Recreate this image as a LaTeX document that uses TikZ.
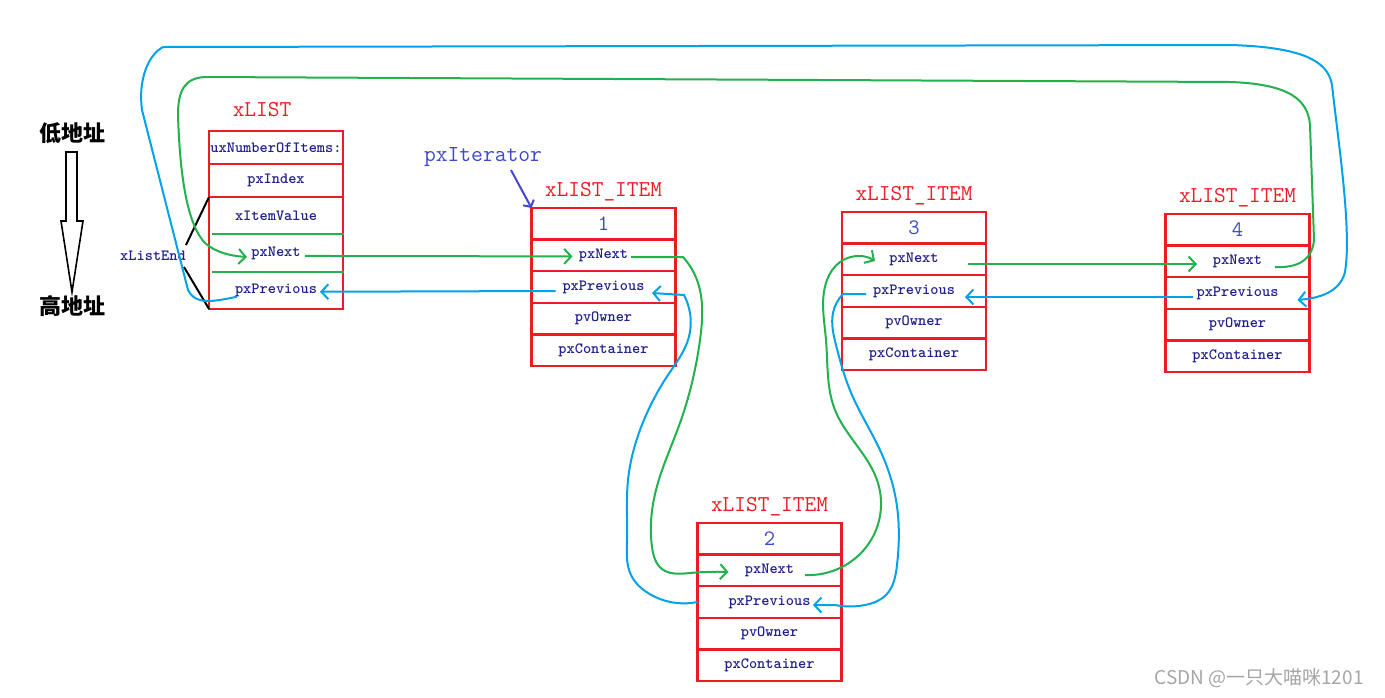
\documentclass[tikz,border=0pt]{standalone}
\usepackage{fontspec}
\newfontfamily\cjk{Noto Sans CJK SC}
\usetikzlibrary{positioning}
\usetikzlibrary{arrows.meta}
\usetikzlibrary{hobby}
\definecolor{boxred}{HTML}{ED1C24}
\definecolor{nextgreen}{HTML}{22B14C}
\definecolor{prevblue}{HTML}{00A2E8}
\definecolor{fieldblue}{RGB}{32,32,140}
\definecolor{numblue}{HTML}{3F48CC}

\begin{document}
\begin{tikzpicture}[x=1pt, y=-1pt]
    \tikzstyle{field} = [draw=boxred, line width=2.4pt, minimum width=144, minimum height=31.6, inner sep=1pt, outer sep=0pt, text=fieldblue, font=\ttfamily\bfseries\fontsize{15.6}{16}\selectfont]
    \tikzstyle{lfield} = [field, minimum width=134]
    \tikzstyle{numfield} = [field, text=numblue, font=\ttfamily\fontsize{22}{22}\selectfont]
    \tikzstyle{title} = [text=boxred, inner sep=2pt, font=\ttfamily\fontsize{22.7}{23}\selectfont]
    \tikzstyle{boxline} = [draw=boxred, line width=2.4pt]
    \tikzstyle{nextline} = [draw=nextgreen, line width=2pt]
    \tikzstyle{prevline} = [draw=prevblue, line width=2pt]
    \tikzstyle{link} = [-{Straight Barb[length=7pt, width=15pt]}]
    \tikzstyle{brace} = [draw=black, line width=2pt]
    \fill[white] (0, 0) rectangle (1385, 697);
    \useasboundingbox (0, 0) rectangle (1385, 697);

    \node[font=\cjk\bfseries\fontsize{22}{22}\selectfont] (low) at (72, 133) {低地址};
    \node[font=\cjk\bfseries\fontsize{22}{22}\selectfont] (high) at (72, 306) {高地址};
    \draw[line width=1.6pt] (66, 152) -- (77, 152) -- (77, 221) -- (83, 221) -- (72, 292) -- (61, 221) -- (66, 221) -- cycle;

    \node[lfield, minimum height=33] (lnum) at (276, 147.5) {uxNumberOfItems:};
    \node[lfield, minimum height=33, below=0pt of lnum] (lidx) {pxIndex};
    \node[lfield, draw=none, minimum height=37.3, below=0pt of lidx] (lval) {xItemValue};
    \node[lfield, draw=none, minimum height=37.3, below=0pt of lval] (lnext) {pxNext};
    \node[lfield, draw=none, minimum height=37.3, below=0pt of lnext] (lprev) {pxPrevious};
    \draw[boxline] (lval.north west) rectangle (lprev.south east);
    \draw[nextline] ([xshift=3]lval.south west) -- ([xshift=1]lval.south east);
    \draw[nextline] ([xshift=3]lnext.south west) -- ([xshift=1]lnext.south east);
    \node[title] (ltitle) at (262, 110) {xLIST};
    \node[text=fieldblue, inner sep=2pt, font=\ttfamily\bfseries\fontsize{15.6}{16}\selectfont] (lend) at (153, 256) {xListEnd};
    \draw[brace] (lval.north west) -- ([xshift=-2, yshift=11]lend.east);
    \draw[brace] ([xshift=-4, yshift=-11]lend.east) -- (lprev.south west);

    \foreach \n/\x/\y in {1/603.5/223.8, 2/769.5/538.8, 3/914/227.8, 4/1237.5/229.8} {
        \node[numfield] (i\n-num) at (\x, \y) {\n};
        \node[field, below=0pt of i\n-num] (i\n-next) {pxNext};
        \node[field, below=0pt of i\n-next] (i\n-prev) {pxPrevious};
        \node[field, below=0pt of i\n-prev] (i\n-owner) {pvOwner};
        \node[field, below=0pt of i\n-owner] (i\n-cont) {pxContainer};
        \node[title, above=5pt of i\n-num] (i\n-title) {xLIST\_ITEM};
    }

    \node[text=numblue, font=\ttfamily\fontsize{22.9}{23}\selectfont] (iter) at (483, 157) {pxIterator};
    \draw[draw=numblue, line width=2pt, -{Straight Barb[length=5pt, width=12pt]}] ([xshift=28]iter.south) -- (i1-num.north west);

    \draw[nextline, link] ([xshift=29, yshift=-3]lnext.center) -- ([xshift=-31, yshift=-1]i1-next.center);
    \draw[nextline, link, use Hobby shortcut] ([xshift=27.5, yshift=-1.6]i1-next.center) -- (683, 257) .. (697, 280) .. (700, 340) .. (680, 423) .. (656, 490) .. (652, 547) .. (662, 569) .. (690, 573) .. ([xshift=-41, yshift=-1.6]i2-next.center);
    \draw[nextline, link, use Hobby shortcut] ([xshift=35.5, yshift=-4.6]i2-next.center) .. (842, 567) .. (876, 530) .. (877, 480) .. (835, 410) .. (826, 340) .. (827, 280) .. (840, 262) .. ([xshift=-39, yshift=-1.6]i3-next.center);
    \draw[nextline, link] ([xshift=54, yshift=-4.6]i3-next.center) -- ([xshift=-40.5, yshift=-2.6]i4-next.center);
    \draw[nextline, link] ([xshift=37.5, yshift=-5.6]i4-next.center) .. controls (1295, 268) and (1312, 262) .. (1314, 240) -- (1310, 125) .. controls (1308, 100) and (1290, 84) .. (1230, 82) -- (205, 77) .. controls (185, 78) and (178, 90) .. (178, 115) .. controls (180, 180) and (188, 225) .. (205, 243) .. controls (215, 252) and (230, 256) .. ([xshift=-29, yshift=-4]lnext.center);

    \draw[prevline, link] ([xshift=-48, yshift=-4]i1-prev.center) -- ([xshift=44, yshift=-1.5]lprev.center);
    \draw[prevline, link, use Hobby shortcut] (i2-prev.west) .. (677, 603) .. (648, 593) .. (631, 575) .. (627, 540) .. (628, 480) .. (640, 430) .. (668, 375) .. (688, 340) .. (690, 313) .. (684, 295) -- ([xshift=48.5, yshift=-6]i1-prev.center);
    \draw[prevline, link, use Hobby shortcut] ([xshift=-48, yshift=-3]i3-prev.center) -- (843, 294) .. (833, 313) .. (836, 345) .. (852, 395) .. (880, 450) .. (896, 500) .. (897, 565) .. (886, 595) .. (865, 605) .. (835, 605) -- ([xshift=43.5, yshift=-3]i2-prev.center);
    \draw[prevline, link] ([xshift=-44.5, yshift=-4]i4-prev.center) -- ([xshift=51, yshift=-6]i3-prev.center);
    \draw[prevline, link] ([xshift=-39, yshift=-6.5]lprev.center) .. controls (215, 301) and (196, 306) .. (188, 290) -- (142, 110) .. controls (138, 80) and (148, 55) .. (163, 47) -- (1230, 45) .. controls (1300, 47) and (1328, 60) .. (1332, 85) .. controls (1338, 140) and (1352, 230) .. (1345, 272) .. controls (1340, 292) and (1320, 298) .. ([xshift=60, yshift=-7]i4-prev.center);

    \node[text=gray!70, font=\cjk\fontsize{19}{19}\selectfont] (mark) at (1259, 678) {CSDN @一只大喵咪1201};
\end{tikzpicture}
\end{document}
